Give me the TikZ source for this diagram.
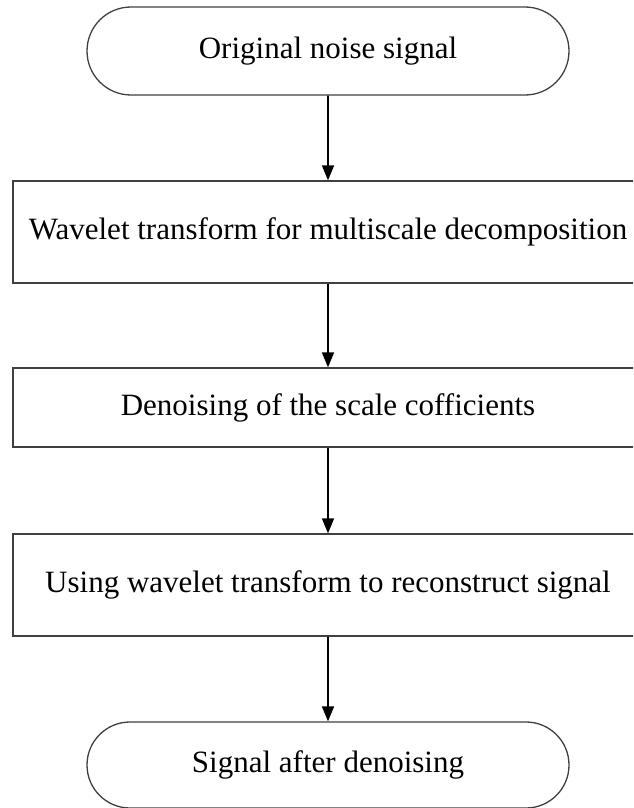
\documentclass[tikz,border=0pt]{standalone}
\usepackage{fontspec}
\setmainfont{Liberation Serif}
\usetikzlibrary{arrows.meta,shapes.misc}
\begin{document}
\begin{tikzpicture}[x=1pt,y=-1pt,
  every node/.style={font=\fontsize{31}{34}\selectfont, text=black},
  terminal/.style={draw=black!75, line width=1.3pt, rounded rectangle,
    minimum width=482pt, minimum height=88pt, inner sep=0pt},
  procbox/.style={draw=black!75, line width=1.3pt, rectangle,
    minimum width=630pt, inner sep=0pt},
  flow/.style={-{Triangle[length=15pt,width=12pt]}, line width=1.6pt, black}]
  \useasboundingbox (0,0) rectangle (633,808);
  \begin{scope}
  \clip (0,0) rectangle (633,808);
  \node[terminal] (start) at (328,51) {Original noise signal};
  \node[procbox, minimum height=102pt] (decomp) at (328,232) {Wavelet transform for multiscale decomposition};
  \node[procbox, minimum height=79pt] (denoise) at (328,407.5) {Denoising of the scale cofficients};
  \node[procbox, minimum height=102pt] (recon) at (328,585) {Using wavelet transform to reconstruct signal};
  \node[terminal, minimum height=86pt] (finish) at (328,765) {Signal after denoising};
  \draw[flow] (start) -- (decomp);
  \draw[flow] (decomp) -- (denoise);
  \draw[flow] (denoise) -- (recon);
  \draw[flow] (recon) -- (finish);
  \end{scope}
\end{tikzpicture}
\end{document}
